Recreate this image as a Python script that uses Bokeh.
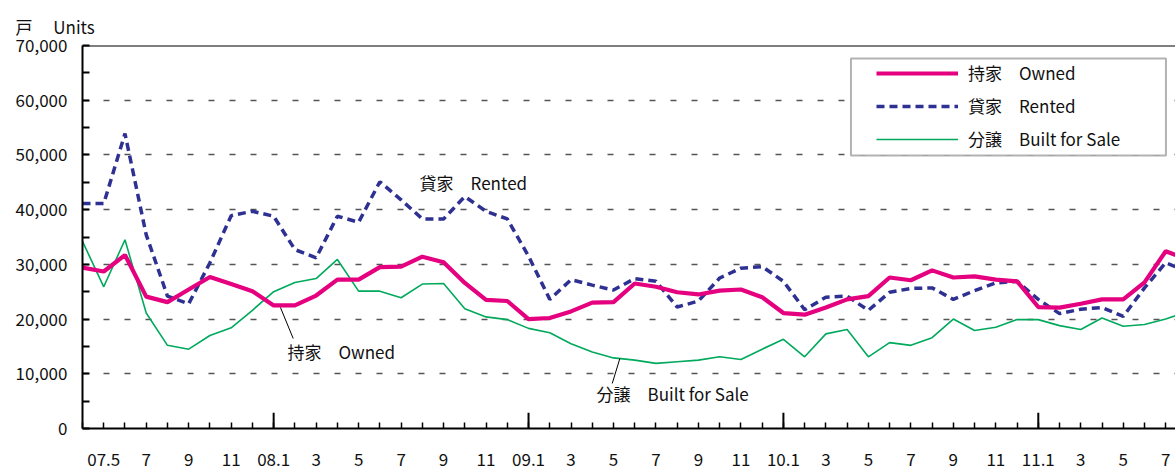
from bokeh.plotting import figure
from bokeh.models import FixedTicker, Label, Legend, LegendItem, BoxAnnotation, Span, Range1d, Title
from bokeh.embed import file_html
from bokeh.resources import INLINE

# ---- data (monthly, starting 2007-04) ----
start_month = 4
owned = [29400, 28700, 31700, 24100, 23100, 25400, 27700, 26400, 25100, 22500,
         22500, 24300, 27200, 27200, 29500, 29600, 31400, 30400, 26600, 23500,
         23300, 20000, 20200, 21400, 23000, 23100, 26500, 25900, 24900, 24500,
         25200, 25400, 24000, 21100, 20800, 22100, 23600, 24200, 27600, 27100,
         28900, 27600, 27800, 27200, 26900, 22200, 22100, 22800, 23600, 23600,
         26700, 32400, 30900]
rented = [41100, 41100, 53900, 35400, 24200, 22800, 30300, 38900, 39700, 38800,
          32700, 31200, 38800, 37700, 45100, 41800, 38300, 38300, 42400, 39700,
          38300, 31500, 23600, 27200, 26200, 25300, 27400, 26900, 22200, 23300,
          27500, 29300, 29600, 26900, 21700, 24000, 24200, 21600, 24900, 25600,
          25700, 23600, 25200, 26600, 26900, 23600, 21000, 21800, 22100, 20500,
          25700, 30300, 28700]
built = [34200, 25900, 34500, 21100, 15200, 14500, 17000, 18400, 21600, 25000,
         26700, 27400, 30900, 25100, 25100, 23900, 26400, 26500, 21900, 20400,
         19900, 18300, 17500, 15500, 14000, 12900, 12500, 11900, 12200, 12500,
         13100, 12600, 14500, 16300, 13100, 17300, 18100, 13100, 15700, 15200,
         16600, 20000, 17900, 18500, 19900, 19900, 18800, 18100, 20200, 18700,
         19000, 20000, 21300]
x_labels = ["07.5", "7", "9", "11", "08.1", "3", "5", "7", "9", "11", "09.1", "3", "5",
            "7", "9", "11", "10.1", "3", "5", "7", "9", "11", "11.1", "3", "5", "7"]
y_ticks = [0, 10000, 20000, 30000, 40000, 50000, 60000, 70000]
series_names = ["持家　Owned", "貸家　Rented", "分譲　Built for Sale"]

FONT = "Noto Sans CJK JP"
TXT = "#111111"
C_OWN = "#e4007f"
C_RENT = "#2e3192"
C_BUILT = "#00a95c"

n = len(owned)
xs = list(range(n))
odd = [i for i in xs if i % 2 == 1][:len(x_labels)]
year_starts = [i for i in xs if (start_month - 1 + i) % 12 == 0]

p = figure(width=1175, height=470, x_range=Range1d(0, 51.46), y_range=Range1d(0, 70000),
           output_backend="svg", toolbar_location=None,
           min_border_left=82, min_border_right=0, min_border_top=45, min_border_bottom=42)
p.outline_line_color = None
p.background_fill_color = "white"
p.border_fill_color = "white"

p.add_layout(Title(text="戸　  Units", align="left", offset=-67, standoff=12,
                   vertical_align="middle",
                   text_font=FONT, text_font_size="17px", text_font_style="normal",
                   text_color=TXT), "above")

# x axis
p.xaxis.ticker = FixedTicker(ticks=xs)
lab = {i: "" for i in xs}
for i, t in zip(odd, x_labels):
    lab[i] = t
p.xaxis.major_label_overrides = lab
p.xaxis.major_tick_in = 6
p.xaxis.major_tick_out = 0
p.xaxis.major_tick_line_width = 1.5
p.xaxis.minor_tick_line_color = None
p.xaxis.axis_line_width = 2
p.xaxis.major_label_standoff = 24
p.xaxis.major_label_text_font = FONT
p.xaxis.major_label_text_font_size = "17px"
p.xaxis.major_label_text_color = TXT

# y axis
yt = list(range(0, 70001, 5000))
p.yaxis.ticker = FixedTicker(ticks=yt)
p.yaxis.major_label_overrides = {v: (f"{v:,}" if v in y_ticks else "") for v in yt}
p.yaxis.major_tick_in = 7
p.yaxis.major_tick_out = 0
p.yaxis.major_tick_line_width = 2
p.yaxis.minor_tick_line_color = None
p.yaxis.axis_line_width = 2
p.yaxis.major_label_standoff = 15
p.yaxis.major_label_text_font = FONT
p.yaxis.major_label_text_font_size = "17px"
p.yaxis.major_label_text_color = TXT

p.xgrid.grid_line_color = None
p.ygrid.ticker = FixedTicker(ticks=y_ticks[1:-1])
p.ygrid.grid_line_color = "#555555"
p.ygrid.grid_line_dash = "6 15"
p.ygrid.grid_line_width = 1.3

p.add_layout(Span(location=y_ticks[-1], dimension="width", line_color="black", line_width=2))

# longer year ticks
p.segment(x0=year_starts, y0=[0] * len(year_starts), x1=year_starts,
          y1=[2900] * len(year_starts), line_color="black", line_width=2)

r_built = p.line(xs, built, line_color=C_BUILT, line_width=1.6)
r_rent = p.line(xs, rented, line_color=C_RENT, line_width=3.5, line_dash="8 5")
r_own = p.line(xs, owned, line_color=C_OWN, line_width=4.2)

# legend box + legend
p.add_layout(BoxAnnotation(left=36.18, right=51.01, top=67640, bottom=49900,
                           fill_color="white", fill_alpha=1.0,
                           line_color="black", line_width=2))
legend = Legend(items=[LegendItem(label=series_names[0], renderers=[r_own]),
                       LegendItem(label=series_names[1], renderers=[r_rent]),
                       LegendItem(label=series_names[2], renderers=[r_built])],
                location=(794, 277), padding=0, margin=0, spacing=8,
                glyph_width=82, glyph_height=20, label_height=20, label_standoff=10,
                border_line_color=None, background_fill_alpha=0,
                label_text_font=FONT, label_text_font_size="17px",
                label_text_color=TXT)
p.add_layout(legend)

# annotations
def add_label(x, y, text):
    p.add_layout(Label(x=x, y=y, text=text, text_font=FONT, text_font_size="17px",
                       text_baseline="middle", text_align="left", text_color=TXT))

add_label(15.87, 44970, series_names[1])
add_label(9.65, 14075, series_names[0])
add_label(24.2, 6400, series_names[2])

p.segment(x0=[9.32, 25.30], y0=[22120, 12800], x1=[9.92, 24.94], y1=[16450, 8230],
          line_color="black", line_width=1)

open("out.html", "w").write(file_html(p, INLINE, title="Housing starts"))
